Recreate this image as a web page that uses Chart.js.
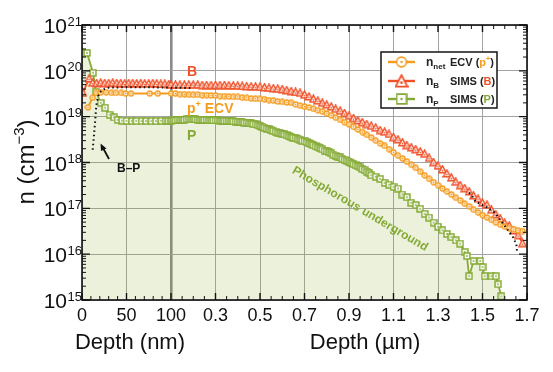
<!DOCTYPE html>
<html>
<head>
<meta charset="utf-8">
<script src="https://cdn.jsdelivr.net/npm/chart.js@4/dist/chart.umd.min.js"></script>
<style>
  html, body { margin: 0; padding: 0; background: #fff; }
</style>
</head>
<body>
<canvas id="profileChart" width="553" height="372"></canvas>
<script>
/* global Chart */

// depths in µm, concentrations in cm^-3
var ecvNearDepth = [0.0067, 0.012, 0.016, 0.021, 0.027, 0.033, 0.038, 0.044, 0.049, 0.055, 0.076, 0.085];
var ecvNearConc = [1.6e19, 2.6e19, 3.3e19, 3.4e19, 3.4e19, 3.3e19, 3.3e19, 3.3e19, 3.2e19, 3.2e19, 3.2e19, 3.2e19];

var bNearDepth = [0.001, 0.008, 0.012, 0.0165, 0.021, 0.0255, 0.030, 0.0345, 0.039, 0.0435, 0.048, 0.0525,
  0.057, 0.0615, 0.066, 0.0705, 0.075, 0.0795, 0.084, 0.0885, 0.093, 0.0975];
var bNearConc = [3.3e19, 6.8e19, 5.5e19, 5.4e19, 5.5e19, 5.4e19, 5.4e19, 5.5e19, 5.4e19, 5.4e19, 5.3e19, 5.4e19,
  5.4e19, 5.3e19, 5.4e19, 5.3e19, 5.3e19, 5.4e19, 5.3e19, 5.2e19, 5.2e19, 5.1e19];

// shared depth grid of the ECV and B(SIMS) profiles
var deepDepth = [0.10, 0.12, 0.14, 0.16, 0.18, 0.20, 0.22, 0.24, 0.26, 0.28, 0.30, 0.32, 0.34, 0.36, 0.38, 0.40,
  0.42, 0.44, 0.46, 0.48, 0.50, 0.52, 0.54, 0.56, 0.58, 0.60, 0.62, 0.64, 0.66, 0.68, 0.70, 0.72, 0.74, 0.76,
  0.78, 0.80, 0.82, 0.84, 0.86, 0.88, 0.90, 0.92, 0.94, 0.96, 0.98, 1.00, 1.02, 1.04, 1.06, 1.08, 1.10, 1.12,
  1.14, 1.16, 1.18, 1.20, 1.22, 1.24, 1.26, 1.28, 1.30, 1.32, 1.34, 1.36, 1.38, 1.40, 1.42, 1.44, 1.46, 1.48,
  1.50, 1.52, 1.54, 1.56, 1.58, 1.60, 1.62, 1.64, 1.66, 1.68];

var ecvConc = [3.2e19, 3.2e19, 3.1e19, 3.1e19, 3.0e19, 3.0e19, 3.0e19, 2.95e19, 2.95e19, 2.9e19, 2.9e19, 2.8e19,
  2.8e19, 2.75e19, 2.7e19, 2.7e19, 2.6e19, 2.57e19, 2.5e19, 2.45e19, 2.45e19, 2.4e19, 2.3e19, 2.24e19, 2.14e19,
  2.1e19, 2.04e19, 2.0e19, 1.86e19, 1.74e19, 1.66e19, 1.58e19, 1.48e19, 1.38e19, 1.29e19, 1.17e19, 1.07e19,
  9.5e18, 8.5e18, 7.6e18, 6.8e18, 6.0e18, 5.25e18, 4.6e18, 4.0e18, 3.5e18, 3.0e18, 2.6e18, 2.3e18, 1.95e18,
  1.66e18, 1.41e18, 1.23e18, 1.05e18, 8.9e17, 7.6e17, 6.3e17, 5.25e17, 4.4e17, 3.7e17, 3.2e17, 2.7e17, 2.34e17,
  2.0e17, 1.7e17, 1.48e17, 1.26e17, 1.1e17, 9.3e16, 8.1e16, 7.1e16, 6.3e16, 5.6e16, 4.9e16, 4.4e16, 4.0e16,
  3.7e16, 3.5e16, 3.3e16, 3.2e16];

var bConc = [5.0e19, 5.0e19, 5.0e19, 5.0e19, 5.0e19, 5.0e19, 5.0e19, 4.9e19, 4.9e19, 4.9e19, 4.9e19, 4.9e19,
  4.9e19, 4.84e19, 4.8e19, 4.73e19, 4.68e19, 4.62e19, 4.57e19, 4.52e19, 4.47e19, 4.37e19, 4.27e19, 4.17e19,
  4.07e19, 3.98e19, 3.8e19, 3.63e19, 3.47e19, 3.31e19, 3.02e19, 2.75e19, 2.45e19, 2.24e19, 2.0e19, 1.82e19,
  1.66e19, 1.48e19, 1.35e19, 1.2e19, 1.05e19, 9.3e18, 8.3e18, 7.6e18, 6.9e18, 6.3e18, 5.75e18, 5.1e18, 4.7e18,
  4.2e18, 3.6e18, 3.2e18, 2.75e18, 2.4e18, 2.14e18, 1.95e18, 1.74e18, 1.55e18, 1.26e18, 1.02e18, 8.5e17,
  7.1e17, 5.75e17, 4.7e17, 3.8e17, 3.2e17, 2.75e17, 2.34e17, 1.9e17, 1.62e17, 1.32e17, 1.2e17, 9.3e16, 7.4e16,
  6.0e16, 4.8e16, 4.2e16, 3.3e16, 2.6e16, 1.74e16];

var pDepth = [0.0005, 0.0056, 0.0124, 0.0157, 0.021, 0.026, 0.031, 0.036, 0.040, 0.045, 0.050, 0.056, 0.061,
  0.067, 0.072, 0.078, 0.083, 0.089, 0.094, 0.097,
  0.10, 0.11, 0.12, 0.13, 0.14, 0.15, 0.16, 0.17, 0.18, 0.19, 0.20, 0.21, 0.22, 0.23, 0.24, 0.25, 0.26, 0.27,
  0.28, 0.29, 0.30, 0.31, 0.32, 0.33, 0.34, 0.35, 0.36, 0.37, 0.38, 0.39, 0.40, 0.41, 0.42, 0.43, 0.44, 0.45,
  0.46, 0.47, 0.48, 0.49, 0.50, 0.51, 0.52, 0.53, 0.54, 0.55, 0.56, 0.57, 0.58, 0.59, 0.60, 0.61, 0.62, 0.63,
  0.64, 0.65, 0.66, 0.67, 0.68, 0.69, 0.70, 0.71, 0.72, 0.73, 0.74, 0.75, 0.76, 0.77, 0.78, 0.79, 0.80, 0.81,
  0.82, 0.83, 0.84, 0.85, 0.86, 0.87, 0.88, 0.89, 0.90, 0.91, 0.92, 0.93, 0.94, 0.95, 0.96, 0.97, 0.98, 0.99,
  1.00, 1.02, 1.04, 1.06, 1.08, 1.10, 1.12, 1.14, 1.16, 1.18, 1.20, 1.22, 1.24, 1.26, 1.28, 1.30, 1.32, 1.34,
  1.36, 1.38, 1.40, 1.42, 1.43, 1.44, 1.46, 1.49, 1.50, 1.51, 1.54, 1.56, 1.57, 1.585];
var pConc = [2.4e20, 2.45e20, 9.1e19, 3.5e19, 2.0e19, 1.57e19, 1.1e19, 9.6e18, 8.5e18, 8.2e18, 8.1e18, 8.0e18,
  8.0e18, 8.0e18, 8.0e18, 8.0e18, 8.0e18, 8.1e18, 8.1e18, 8.1e18,
  8.1e18, 8.3e18, 8.3e18, 8.5e18, 8.5e18, 8.5e18, 8.5e18, 8.7e18, 8.7e18, 8.7e18, 8.7e18, 8.7e18, 8.5e18,
  8.5e18, 8.5e18, 8.5e18, 8.5e18, 8.3e18, 8.3e18, 8.3e18, 8.3e18, 8.3e18, 8.1e18, 8.1e18, 8.1e18, 8.1e18,
  8.1e18, 7.9e18, 7.9e18, 7.8e18, 7.8e18, 7.6e18, 7.6e18, 7.4e18, 7.4e18, 7.2e18, 7.1e18, 6.9e18, 6.8e18,
  6.5e18, 6.3e18, 6.0e18, 5.75e18, 5.5e18, 5.25e18, 5.0e18, 4.9e18, 4.7e18, 4.5e18, 4.4e18, 4.2e18, 4.1e18,
  3.9e18, 3.7e18, 3.55e18, 3.5e18, 3.4e18, 3.2e18, 3.16e18, 3.0e18, 2.9e18, 2.75e18, 2.6e18, 2.5e18, 2.4e18,
  2.24e18, 2.14e18, 2.04e18, 1.95e18, 1.82e18, 1.74e18, 1.66e18, 1.58e18, 1.48e18, 1.41e18, 1.35e18, 1.29e18,
  1.2e18, 1.15e18, 1.1e18, 1.05e18, 9.8e17, 9.3e17, 8.7e17, 8.3e17, 7.8e17, 7.2e17, 6.8e17, 6.3e17, 5.9e17,
  5.25e17, 4.9e17, 4.4e17, 3.6e17, 3.3e17, 2.95e17, 2.7e17, 2.0e17, 1.74e17, 1.32e17, 1.17e17, 9.8e16, 7.6e16,
  6.3e16, 4.9e16, 4.0e16, 3.3e16, 2.75e16, 2.34e16, 2.0e16, 1.7e16, 1.12e16, 9.1e15, 3.3e15, 7.1e15, 7.1e15,
  5.2e15, 3.3e15, 3.3e15, 3.3e15, 2.2e15, 1.2e15];

// B - P difference (dotted), null splits the two visible pieces
var bpDepth = [0.012, 0.0135, 0.015, 0.016, 0.018, 0.022, 0.030, 0.050, 0.070, 0.100, 0.200, 0.800,
  1.44, 1.47, 1.52, 1.555, 1.635, 1.652, 1.655];
var bpConc = [1.9e18, 4.0e18, 9.0e18, 1.7e19, 2.8e19, 3.8e19, 4.3e19, 4.4e19, 4.4e19, 4.3e19, 4.2e19, null,
  2.2e17, 1.4e17, 1.05e17, 8.1e16, 2.45e16, 1.66e16, 1.17e16];

var xTickDepths = [0, 0.05, 0.1, 0.3, 0.5, 0.7, 0.9, 1.1, 1.3, 1.5, 1.7];
var xTickLabels = ["0", "50", "100", "0.3", "0.5", "0.7", "0.9", "1.1", "1.3", "1.5", "1.7"];
var yTickExponents = [15, 16, 17, 18, 19, 20, 21];

var ecvColor = "#f59c1f";
var bColor = "#ef5128";
var pColor = "#84aa34";
var FONT = '"Liberation Sans", Arial, sans-serif';

// first 100 nm on a zoomed scale, then µm
function toAxis(d) {
  return d <= 0.1 ? d * 1000 : 100 + (d - 0.1) * 250;
}

function toPoints(depths, conc) {
  return depths.map(function (d, i) {
    return { x: toAxis(d), y: conc[i] };
  });
}

function font(size, bold) {
  return (bold ? "bold " : "") + size + "px " + FONT;
}

function makeMarker(shape, color, size, lw) {
  var c = document.createElement("canvas");
  c.width = size;
  c.height = size;
  var g = c.getContext("2d");
  var m = size / 2;
  g.lineWidth = lw;
  g.strokeStyle = color;
  g.fillStyle = "#fff";
  g.beginPath();
  if (shape === "circle") {
    g.arc(m, m, m - lw / 2 - 0.3, 0, Math.PI * 2);
  } else if (shape === "triangle") {
    g.moveTo(m, lw * 0.6);
    g.lineTo(size - lw * 0.6, size - lw / 2 - 0.5);
    g.lineTo(lw * 0.6, size - lw / 2 - 0.5);
    g.closePath();
  } else {
    g.rect(lw / 2 + 0.3, lw / 2 + 0.3, size - lw - 0.6, size - lw - 0.6);
  }
  g.fill();
  g.stroke();
  g.fillStyle = color;
  g.beginPath();
  g.arc(m, shape === "triangle" ? m + size * 0.12 : m, Math.max(0.9, size * 0.1), 0, Math.PI * 2);
  g.fill();
  return c;
}

function drawRuns(ctx, runs, x, y) {
  runs.forEach(function (r) {
    ctx.font = r[1];
    ctx.fillStyle = r[2];
    ctx.fillText(r[0], x, y + (r[3] || 0));
    x += ctx.measureText(r[0]).width;
  });
  return x;
}

function runsWidth(ctx, runs) {
  var w = 0;
  runs.forEach(function (r) {
    ctx.font = r[1];
    w += ctx.measureText(r[0]).width;
  });
  return w;
}

var ecvMarker = makeMarker("circle", ecvColor, 7, 1.4);
var bMarker = makeMarker("triangle", bColor, 9, 1.4);
var pMarker = makeMarker("square", pColor, 8, 1.5);

var overlay = {
  id: "overlay",
  afterDraw: function (chart) {
    var ctx = chart.ctx;
    var a = chart.chartArea;
    var xs = chart.scales.x;
    var ys = chart.scales.y;
    ctx.save();

    // frame
    ctx.strokeStyle = "#111";
    ctx.lineWidth = 1.6;
    ctx.strokeRect(a.left, a.top, a.right - a.left, a.bottom - a.top);

    // inward ticks
    ctx.lineWidth = 1.4;
    ctx.beginPath();
    yTickExponents.forEach(function (e) {
      var y = ys.getPixelForValue(Math.pow(10, e));
      ctx.moveTo(a.left, y); ctx.lineTo(a.left + 8, y);
      ctx.moveTo(a.right, y); ctx.lineTo(a.right - 8, y);
    });
    xTickDepths.forEach(function (d) {
      var x = xs.getPixelForValue(toAxis(d));
      ctx.moveTo(x, a.bottom); ctx.lineTo(x, a.bottom - 7);
      ctx.moveTo(x, a.top); ctx.lineTo(x, a.top + 7);
    });
    ctx.stroke();
    ctx.lineWidth = 1;
    ctx.beginPath();
    var e, m, x, y, k;
    for (e = 15; e < 21; e++) {
      for (m = 2; m <= 9; m++) {
        y = ys.getPixelForValue(m * Math.pow(10, e));
        ctx.moveTo(a.left, y); ctx.lineTo(a.left + 4, y);
        ctx.moveTo(a.right, y); ctx.lineTo(a.right - 4, y);
      }
    }
    for (k = 10; k < 100; k += 10) {
      if (k === 50) continue;
      x = xs.getPixelForValue(k);
      ctx.moveTo(x, a.bottom); ctx.lineTo(x, a.bottom - 4);
      ctx.moveTo(x, a.top); ctx.lineTo(x, a.top + 4);
    }
    for (k = 3; k < 34; k++) {
      if ((k - 2) % 4 === 0) continue;
      x = xs.getPixelForValue(toAxis(k * 0.05));
      ctx.moveTo(x, a.bottom); ctx.lineTo(x, a.bottom - 4);
      ctx.moveTo(x, a.top); ctx.lineTo(x, a.top + 4);
    }
    ctx.stroke();

    // tick labels
    ctx.fillStyle = "#111";
    ctx.textBaseline = "alphabetic";
    ctx.textAlign = "center";
    ctx.font = font(18);
    xTickDepths.forEach(function (d, i) {
      ctx.fillText(xTickLabels[i], xs.getPixelForValue(toAxis(d)), 321);
    });
    ctx.textAlign = "right";
    yTickExponents.forEach(function (e) {
      var y = ys.getPixelForValue(Math.pow(10, e));
      ctx.font = font(13);
      var ew = ctx.measureText(String(e)).width;
      ctx.fillText(String(e), 82, y + 0.5);
      ctx.font = font(21);
      ctx.fillText("10", 82 - ew - 0.5, y + 8);
    });

    // axis titles
    ctx.textAlign = "center";
    ctx.font = font(22);
    ctx.fillText("Depth (nm)", 130, 349);
    ctx.fillText("Depth (\u00b5m)", 365, 349);
    ctx.textAlign = "left";
    var yTitle = [["n (cm", font(24), "#111"], ["\u22123", font(15), "#111", -10], [")", font(24), "#111"]];
    ctx.save();
    ctx.translate(34, 162);
    ctx.rotate(-Math.PI / 2);
    drawRuns(ctx, yTitle, -runsWidth(ctx, yTitle) / 2, 0);
    ctx.restore();

    // curve labels
    drawRuns(ctx, [["B", font(14, true), bColor]], 187, 76);
    drawRuns(ctx, [["p", font(14, true), ecvColor], ["+", font(9, true), ecvColor, -6],
      [" ECV", font(14, true), ecvColor]], 187, 113);
    drawRuns(ctx, [["P", font(14, true), pColor]], 187, 140);
    drawRuns(ctx, [["B\u2013P", font(12, true), "#111"]], 117, 172);

    ctx.strokeStyle = "#111";
    ctx.fillStyle = "#111";
    ctx.lineWidth = 1.8;
    ctx.beginPath();
    ctx.moveTo(109, 159);
    ctx.lineTo(103, 148);
    ctx.stroke();
    ctx.beginPath();
    ctx.moveTo(100.5, 143.5);
    ctx.lineTo(106.5, 148.5);
    ctx.lineTo(101, 151);
    ctx.closePath();
    ctx.fill();

    ctx.save();
    ctx.translate(360, 209);
    ctx.rotate(30.5 * Math.PI / 180);
    ctx.textAlign = "center";
    ctx.textBaseline = "middle";
    ctx.font = font(12, true);
    ctx.fillStyle = pColor;
    ctx.fillText("Phosphorous underground", 0, 0);
    ctx.restore();

    // legend
    ctx.textAlign = "left";
    ctx.textBaseline = "alphabetic";
    ctx.fillStyle = "#fff";
    ctx.fillRect(381, 52, 116, 56);
    ctx.strokeStyle = "#222";
    ctx.lineWidth = 1.6;
    ctx.strokeRect(381, 52, 116, 56);
    var rows = [
      { y: 62, color: ecvColor, mk: makeMarker("circle", ecvColor, 12, 1.6), sub: "net",
        tag: [["ECV (", font(11, true), "#222"], ["p", font(11, true), ecvColor], ["+", font(7, true), ecvColor, -5], [")", font(11, true), "#222"]] },
      { y: 81, color: bColor, mk: makeMarker("triangle", bColor, 14, 1.8), sub: "B",
        tag: [["SIMS (", font(11, true), "#222"], ["B", font(11, true), bColor], [")", font(11, true), "#222"]] },
      { y: 99, color: pColor, mk: makeMarker("square", pColor, 12, 1.6), sub: "P",
        tag: [["SIMS (", font(11, true), "#222"], ["P", font(11, true), pColor], [")", font(11, true), "#222"]] }
    ];
    rows.forEach(function (r) {
      ctx.strokeStyle = r.color;
      ctx.lineWidth = 2.4;
      ctx.beginPath();
      ctx.moveTo(388, r.y);
      ctx.lineTo(415, r.y);
      ctx.stroke();
      ctx.drawImage(r.mk, 401.5 - r.mk.width / 2, r.y - r.mk.height / 2);
      drawRuns(ctx, [["n", font(12, true), "#222"], [r.sub, font(8, true), "#222", 3]], 426, r.y + 4);
      drawRuns(ctx, r.tag, 450, r.y + 4);
    });

    ctx.restore();
  }
};

var profileChart = new Chart(document.getElementById("profileChart"), {
  type: "line",
  data: {
    datasets: [
      {
        label: "B-P",
        data: toPoints(bpDepth, bpConc),
        borderColor: "#111",
        borderWidth: 2,
        borderDash: [1.5, 3],
        pointRadius: 0,
        order: 0,
      },
      {
        label: "n_net ECV (p+)",
        data: toPoints(ecvNearDepth.concat(deepDepth), ecvNearConc.concat(ecvConc)),
        borderColor: ecvColor,
        borderWidth: 2,
        pointStyle: ecvMarker,
        pointRadius: 3,
        order: 1,
      },
      {
        label: "n_B SIMS (B)",
        data: toPoints(bNearDepth.concat(deepDepth), bNearConc.concat(bConc)),
        borderColor: bColor,
        borderWidth: 1.8,
        pointStyle: bMarker,
        pointRadius: 3,
        order: 2,
      },
      {
        label: "n_P SIMS (P)",
        data: toPoints(pDepth, pConc),
        borderColor: pColor,
        backgroundColor: "rgba(140, 172, 45, 0.17)",
        fill: "start",
        borderWidth: 1.8,
        pointStyle: pMarker,
        pointRadius: 3,
        order: 3,
      },
    ],
  },
  options: {
    responsive: false,
    animation: false,
    events: [],
    layout: {
      autoPadding: false,
      padding: { left: 82, right: 26, top: 25, bottom: 72 },
    },
    elements: {
      line: { tension: 0 },
    },
    plugins: {
      legend: { display: false },
      tooltip: { enabled: false },
    },
    scales: {
      x: {
        type: "linear",
        min: 0,
        max: 500,
        afterBuildTicks: function (scale) {
          scale.ticks = xTickDepths.map(function (d) {
            return { value: toAxis(d) };
          });
        },
        ticks: { display: false },
        border: { display: false },
        grid: {
          drawTicks: false,
          color: function (c) {
            return c.tick && c.tick.value === 100 ? "#8a8a8a" : "#a3a3a3";
          },
          lineWidth: function (c) {
            return c.tick && c.tick.value === 100 ? 2.6 : 1;
          },
        },
      },
      y: {
        type: "logarithmic",
        min: 1e15,
        max: 1e21,
        afterBuildTicks: function (scale) {
          scale.ticks = yTickExponents.map(function (e) {
            return { value: Math.pow(10, e) };
          });
        },
        ticks: { display: false },
        border: { display: false },
        grid: {
          drawTicks: false,
          color: "#a3a3a3",
          lineWidth: 1,
        },
      },
    },
  },
  plugins: [overlay],
});
</script>
</body>
</html>
